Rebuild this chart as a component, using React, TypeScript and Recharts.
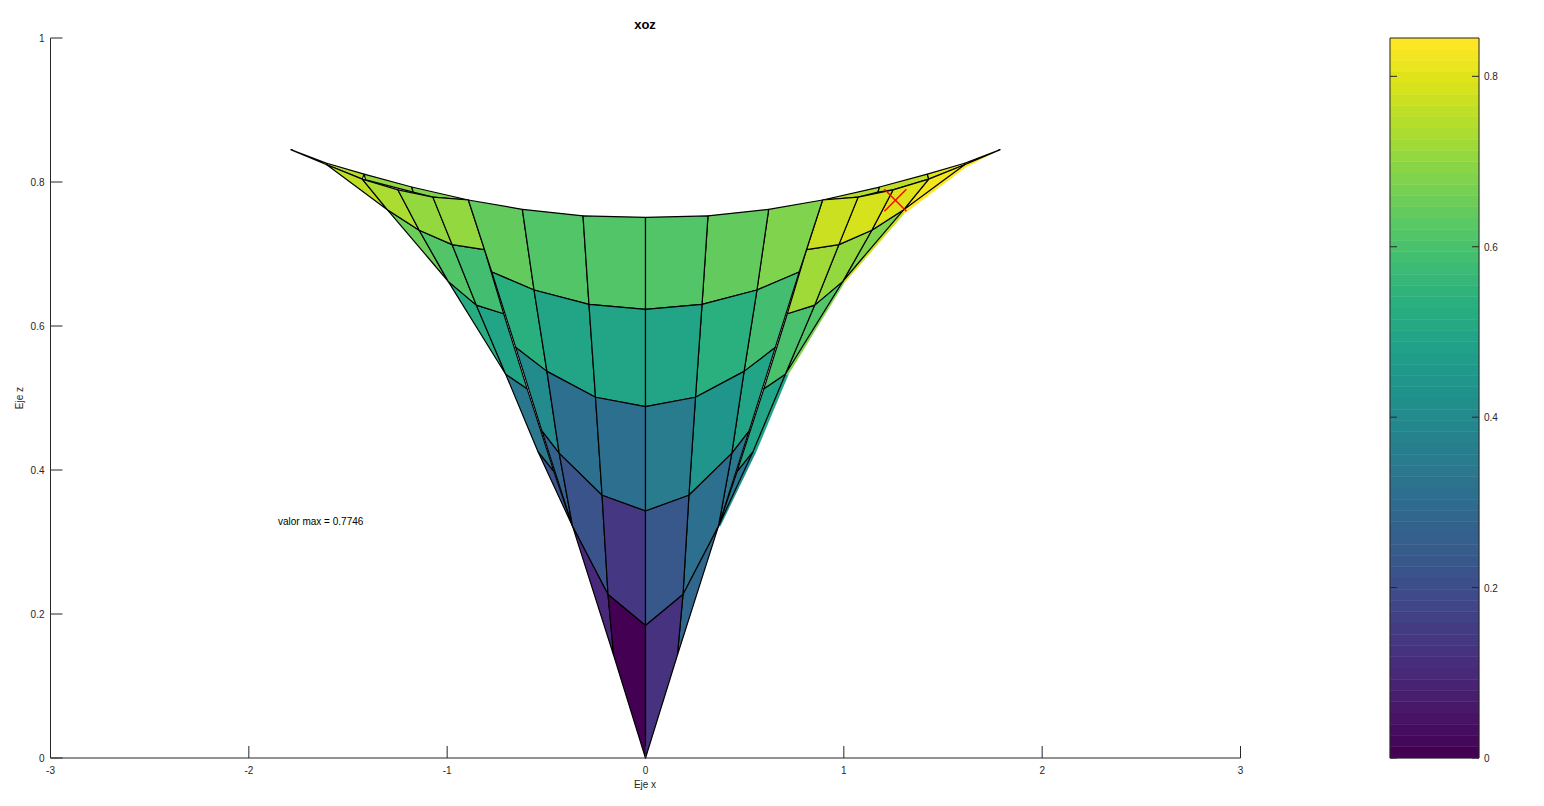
import { Bar, BarChart, ReferenceArea, Scatter, ScatterChart, XAxis, YAxis } from "recharts";

type Cell = { level: number; corners: number[][] };

const xTicks = [-3, -2, -1, 0, 1, 2, 3];
const zTicks = [0, 0.2, 0.4, 0.6, 0.8, 1];
const barTicks = [0, 0.2, 0.4, 0.6, 0.8];
const barMax = 0.845;
const maxPoint = [{ x: 1.26, y: 0.7746 }];
const barAnchor = [{ x: 0.5, y: 0 }];

// peeks out behind the right silhouette, no edges
const backSlivers: Cell[] = [
  { level: 0.42, corners: [[0.36, 0.322], [0.544, 0.426], [0.56, 0.426], [0.378, 0.322]] },
  { level: 0.5, corners: [[0.544, 0.426], [0.705, 0.533], [0.722, 0.533], [0.56, 0.426]] },
  { level: 0.68, corners: [[0.705, 0.533], [0.995, 0.662], [1.008, 0.662], [0.722, 0.533]] },
  { level: 0.77, corners: [[0.995, 0.662], [1.3, 0.761], [1.305, 0.756], [1.004, 0.66]] },
  { level: 0.845, corners: [[1.3, 0.761], [1.609, 0.824], [1.789, 0.845], [1.614, 0.82], [1.305, 0.756]] },
];

const topStrips: Cell[] = [
  { level: 0.75, corners: [[-1.607, 0.826], [-1.419, 0.811], [-1.428, 0.804], [-1.607, 0.824]] },
  { level: 0.705, corners: [[-1.419, 0.811], [-1.179, 0.793], [-1.171, 0.786], [-1.411, 0.803]] },
  { level: 0.68, corners: [[-1.179, 0.793], [-0.893, 0.775], [-1.072, 0.779], [-1.171, 0.786]] },
  { level: 0.74, corners: [[0.893, 0.775], [1.18, 0.793], [1.172, 0.786], [1.072, 0.779]] },
  { level: 0.76, corners: [[1.18, 0.793], [1.421, 0.811], [1.428, 0.804], [1.248, 0.789], [1.172, 0.786]] },
  { level: 0.8, corners: [[1.421, 0.811], [1.609, 0.826], [1.609, 0.824], [1.428, 0.804]] },
];

const lowerFolds: Cell[] = [
  { level: 0.22, corners: [[-0.543, 0.426], [-0.462, 0.398], [-0.368, 0.322]] },
  { level: 0.33, corners: [[0.543, 0.426], [0.462, 0.398], [0.368, 0.322]] },
  { level: 0.34, corners: [[-0.705, 0.533], [-0.597, 0.513], [-0.462, 0.398], [-0.543, 0.426]] },
  { level: 0.495, corners: [[0.705, 0.533], [0.597, 0.513], [0.462, 0.398], [0.543, 0.426]] },
  { level: 0.515, corners: [[-0.995, 0.662], [-0.853, 0.629], [-0.705, 0.533]] },
  { level: 0.49, corners: [[-0.853, 0.629], [-0.715, 0.617], [-0.597, 0.513], [-0.705, 0.533]] },
  { level: 0.62, corners: [[0.995, 0.662], [0.853, 0.629], [0.705, 0.533]] },
  { level: 0.595, corners: [[0.853, 0.629], [0.715, 0.617], [0.597, 0.513], [0.705, 0.533]] },
];

const upperFolds: Cell[] = [
  { level: 0.65, corners: [[-1.3, 0.761], [-1.141, 0.733], [-0.995, 0.662], [-1.087, 0.692]] },
  { level: 0.61, corners: [[-1.141, 0.733], [-0.975, 0.713], [-0.853, 0.629], [-0.995, 0.662]] },
  { level: 0.59, corners: [[-0.975, 0.713], [-0.812, 0.706], [-0.715, 0.617], [-0.853, 0.629]] },
  { level: 0.68, corners: [[1.3, 0.761], [1.141, 0.733], [0.995, 0.662], [1.087, 0.692]] },
  { level: 0.71, corners: [[1.141, 0.733], [0.975, 0.713], [0.853, 0.629], [0.995, 0.662]] },
  { level: 0.72, corners: [[0.975, 0.713], [0.812, 0.706], [0.715, 0.617], [0.853, 0.629]] },
];

const rimCells: Cell[] = [
  { level: 0.8, corners: [[-1.789, 0.845], [-1.607, 0.826], [-1.607, 0.824]] },
  { level: 0.84, corners: [[1.789, 0.845], [1.609, 0.826], [1.609, 0.824]] },
  { level: 0.756, corners: [[-1.607, 0.824], [-1.428, 0.804], [-1.3, 0.761]] },
  { level: 0.735, corners: [[-1.428, 0.804], [-1.248, 0.789], [-1.141, 0.733], [-1.3, 0.761]] },
  { level: 0.7, corners: [[-1.248, 0.789], [-1.072, 0.779], [-0.975, 0.713], [-1.141, 0.733]] },
  { level: 0.7, corners: [[-1.072, 0.779], [-0.893, 0.775], [-0.812, 0.706], [-0.975, 0.713]] },
  { level: 0.825, corners: [[1.609, 0.824], [1.428, 0.804], [1.3, 0.761]] },
  { level: 0.805, corners: [[1.428, 0.804], [1.248, 0.789], [1.141, 0.733], [1.3, 0.761]] },
  { level: 0.785, corners: [[1.248, 0.789], [1.072, 0.779], [0.975, 0.713], [1.141, 0.733]] },
  { level: 0.77, corners: [[1.072, 0.779], [0.893, 0.775], [0.812, 0.706], [0.975, 0.713]] },
];

const outerSheet: Cell[] = [
  { level: 0.645, corners: [[-0.621, 0.762], [-0.893, 0.775], [-0.775, 0.675], [-0.562, 0.65]] },
  { level: 0.54, corners: [[-0.562, 0.65], [-0.775, 0.675], [-0.654, 0.57], [-0.497, 0.537]] },
  { level: 0.4, corners: [[-0.497, 0.537], [-0.654, 0.57], [-0.522, 0.454], [-0.435, 0.423]] },
  { level: 0.265, corners: [[-0.435, 0.423], [-0.522, 0.454], [-0.368, 0.322]] },
  { level: 0.675, corners: [[0.621, 0.762], [0.893, 0.775], [0.775, 0.675], [0.562, 0.65]] },
  { level: 0.585, corners: [[0.562, 0.65], [0.775, 0.675], [0.654, 0.57], [0.497, 0.537]] },
  { level: 0.5, corners: [[0.497, 0.537], [0.654, 0.57], [0.522, 0.454], [0.435, 0.423]] },
  { level: 0.34, corners: [[0.435, 0.423], [0.522, 0.454], [0.368, 0.322]] },
];

const innerSheet: Cell[] = [
  { level: 0.615, corners: [[-0.315, 0.753], [-0.621, 0.762], [-0.562, 0.65], [-0.285, 0.63]] },
  { level: 0.5, corners: [[-0.285, 0.63], [-0.562, 0.65], [-0.497, 0.537], [-0.252, 0.501]] },
  { level: 0.315, corners: [[-0.252, 0.501], [-0.497, 0.537], [-0.435, 0.423], [-0.219, 0.365]] },
  { level: 0.22, corners: [[-0.219, 0.365], [-0.435, 0.423], [-0.368, 0.322], [-0.189, 0.227]] },
  { level: 0.095, corners: [[-0.189, 0.227], [-0.368, 0.322], [-0.161, 0.143]] },
  { level: 0.64, corners: [[0.315, 0.753], [0.621, 0.762], [0.562, 0.65], [0.285, 0.63]] },
  { level: 0.535, corners: [[0.285, 0.63], [0.562, 0.65], [0.497, 0.537], [0.252, 0.501]] },
  { level: 0.44, corners: [[0.252, 0.501], [0.497, 0.537], [0.435, 0.423], [0.219, 0.365]] },
  { level: 0.305, corners: [[0.219, 0.365], [0.435, 0.423], [0.368, 0.322], [0.189, 0.227]] },
  { level: 0.285, corners: [[0.189, 0.227], [0.368, 0.322], [0.161, 0.143]] },
];

const centerSheet: Cell[] = [
  { level: 0.615, corners: [[0, 0.751], [-0.315, 0.753], [-0.285, 0.63], [0, 0.623]] },
  { level: 0.49, corners: [[0, 0.623], [-0.285, 0.63], [-0.252, 0.501], [0, 0.488]] },
  { level: 0.31, corners: [[0, 0.488], [-0.252, 0.501], [-0.219, 0.365], [0, 0.343]] },
  { level: 0.135, corners: [[0, 0.343], [-0.219, 0.365], [-0.189, 0.227], [0, 0.184]] },
  { level: 0, corners: [[0, 0.184], [-0.189, 0.227], [-0.161, 0.143], [0, 0]] },
  { level: 0.615, corners: [[0, 0.751], [0.315, 0.753], [0.285, 0.63], [0, 0.623]] },
  { level: 0.5, corners: [[0, 0.623], [0.285, 0.63], [0.252, 0.501], [0, 0.488]] },
  { level: 0.355, corners: [[0, 0.488], [0.252, 0.501], [0.219, 0.365], [0, 0.343]] },
  { level: 0.225, corners: [[0, 0.343], [0.219, 0.365], [0.189, 0.227], [0, 0.184]] },
  { level: 0.12, corners: [[0, 0.184], [0.189, 0.227], [0.161, 0.143], [0, 0]] },
];

const viridisStops = [
  "#440154", "#481567", "#482677", "#453781", "#404788", "#39568c", "#33638d", "#2d708e", "#287d8e", "#238a8d",
  "#1f968b", "#20a387", "#29af7f", "#3cbb75", "#55c667", "#73d055", "#95d840", "#b8de29", "#dce319", "#fde725",
];

const LEVELS = 64;
const AXIS = "#262626";
const FONT = "'Liberation Sans', Arial, sans-serif";

function hexPart(hex: string, i: number) {
  return parseInt(hex.slice(1 + i * 2, 3 + i * 2), 16);
}

// 64 band colormap, same as octave's default
const levelColors = Array.from({ length: LEVELS }, (_, n) => {
  const t = (n / (LEVELS - 1)) * (viridisStops.length - 1);
  const lo = Math.floor(t);
  const hi = Math.min(lo + 1, viridisStops.length - 1);
  const rgb = [0, 1, 2].map((i) =>
    Math.round(hexPart(viridisStops[lo], i) * (1 - t + lo) + hexPart(viridisStops[hi], i) * (t - lo))
  );
  return `rgb(${rgb.join(",")})`;
});

function colorFor(level: number) {
  return levelColors[Math.min(LEVELS - 1, Math.floor((level / barMax) * LEVELS))];
}

const barRow: Record<string, number | string> = { name: "cb" };
levelColors.forEach((_, n) => {
  barRow[`band${n}`] = barMax / LEVELS;
});

function toPoints(cell: Cell) {
  const pts = cell.corners.map(([x, y]) => ({ x, y }));
  return [...pts, pts[0]];
}

function renderCells(cells: Cell[], prefix: string, edged = true) {
  return cells.map((cell, i) => (
    <Scatter
      key={`${prefix}${i}`}
      data={toPoints(cell)}
      isAnimationActive={false}
      legendType="none"
      line={{
        fill: colorFor(cell.level),
        stroke: edged ? "#000" : "none",
        strokeWidth: 1.2,
        strokeLinejoin: "round",
      }}
      shape={() => <g />}
    />
  ));
}

const XTick = ({ x, y, payload }: any) => (
  <g>
    <line x1={x} x2={x} y1={y} y2={y - 12} stroke={AXIS} />
    <text x={x} y={y + 16} textAnchor="middle" fontSize={10} fontFamily={FONT} fill={AXIS}>
      {payload.value}
    </text>
  </g>
);

const ZTick = ({ x, y, payload }: any) => (
  <g>
    <line x1={x} x2={x + 12} y1={y} y2={y} stroke={AXIS} />
    <text x={x - 6} y={y + 4} textAnchor="end" fontSize={10} fontFamily={FONT} fill={AXIS}>
      {payload.value}
    </text>
  </g>
);

const BarLeftTick = ({ x, y }: any) => <line x1={x} x2={x + 7} y1={y} y2={y} stroke={AXIS} />;

const BarRightTick = ({ x, y, payload }: any) => (
  <g>
    <line x1={x} x2={x - 7} y1={y} y2={y} stroke={AXIS} />
    <text x={x + 5} y={y + 4} fontSize={10} fontFamily={FONT} fill={AXIS}>
      {payload.value}
    </text>
  </g>
);

const MaxCross = ({ cx, cy }: any) => (
  <g stroke="#ff0000" strokeWidth={1.4}>
    <line x1={cx - 11} x2={cx + 11} y1={cy - 11} y2={cy + 11} />
    <line x1={cx - 11} x2={cx + 11} y1={cy + 11} y2={cy - 11} />
  </g>
);

export default function App() {
  return (
    <div style={{ position: "absolute", left: 0, top: 0, width: 1544, height: 806, overflow: "hidden", background: "#fff" }}>
      <div style={{ position: "absolute", left: 0, top: 0 }}>
        <ScatterChart width={1544} height={806} margin={{ top: 38, right: 303.5, bottom: 0, left: 0 }}>
          <XAxis
            type="number"
            dataKey="x"
            domain={[-3, 3]}
            ticks={xTicks}
            height={48}
            tickSize={0}
            tickMargin={0}
            tickLine={false}
            interval={0}
            stroke={AXIS}
            tick={XTick}
          />
          <YAxis
            type="number"
            dataKey="y"
            domain={[0, 1]}
            ticks={zTicks}
            width={50.5}
            tickSize={0}
            tickMargin={0}
            tickLine={false}
            interval={0}
            stroke={AXIS}
            tick={ZTick}
          />
          {renderCells(backSlivers, "back", false)}
          {renderCells(topStrips, "strip")}
          {renderCells(lowerFolds, "lower")}
          {renderCells(upperFolds, "upper")}
          {renderCells(rimCells, "rim")}
          {renderCells(outerSheet, "outer")}
          {renderCells(innerSheet, "inner")}
          {renderCells(centerSheet, "center")}
          <Scatter data={maxPoint} isAnimationActive={false} legendType="none" shape={MaxCross} />
          <text x={645} y={29} textAnchor="middle" fontSize={13} fontWeight="bold" fontFamily={FONT} fill="#000">
            xoz
          </text>
          <text x={645} y={788} textAnchor="middle" fontSize={10} fontFamily={FONT} fill={AXIS}>
            Eje x
          </text>
          <text
            x={23}
            y={398}
            textAnchor="middle"
            fontSize={10}
            fontFamily={FONT}
            fill={AXIS}
            transform="rotate(-90 23 398)"
          >
            Eje z
          </text>
          <text x={278} y={525} fontSize={10} fontFamily={FONT} fill="#000">
            valor max = 0.7746
          </text>
        </ScatterChart>
      </div>
      <div style={{ position: "absolute", left: 1340, top: 0 }}>
        <BarChart
          width={204}
          height={806}
          data={[barRow]}
          barCategoryGap={0}
          barGap={0}
          margin={{ top: 38, right: 65, bottom: 48, left: 50 }}
        >
          <XAxis dataKey="name" hide />
          <YAxis domain={[0, barMax]} hide />
          {levelColors.map((color, n) => (
            <Bar
              key={n}
              dataKey={`band${n}`}
              stackId="cb"
              fill={color}
              stroke={color}
              strokeWidth={0.5}
              isAnimationActive={false}
              legendType="none"
            />
          ))}
        </BarChart>
      </div>
      {/* frame and ticks go on a layer of their own, above the bands */}
      <div style={{ position: "absolute", left: 1340, top: 0 }}>
        <ScatterChart width={204} height={806} margin={{ top: 38, right: 0, bottom: 48, left: 0 }}>
          <XAxis type="number" dataKey="x" domain={[0, 1]} hide />
          <YAxis
            yAxisId="left"
            type="number"
            dataKey="y"
            domain={[0, barMax]}
            ticks={barTicks}
            width={50}
            tickSize={0}
            tickMargin={0}
            tickLine={false}
            axisLine={false}
            tick={BarLeftTick}
          />
          <YAxis
            yAxisId="right"
            orientation="right"
            type="number"
            dataKey="y"
            domain={[0, barMax]}
            ticks={barTicks}
            width={65}
            tickSize={0}
            tickMargin={0}
            tickLine={false}
            axisLine={false}
            tick={BarRightTick}
          />
          <Scatter yAxisId="left" data={barAnchor} isAnimationActive={false} legendType="none" shape={() => <g />} />
          <Scatter yAxisId="right" data={barAnchor} isAnimationActive={false} legendType="none" shape={() => <g />} />
          <ReferenceArea yAxisId="left" y1={0} y2={barMax} fill="none" stroke={AXIS} strokeWidth={1} />
        </ScatterChart>
      </div>
    </div>
  );
}
